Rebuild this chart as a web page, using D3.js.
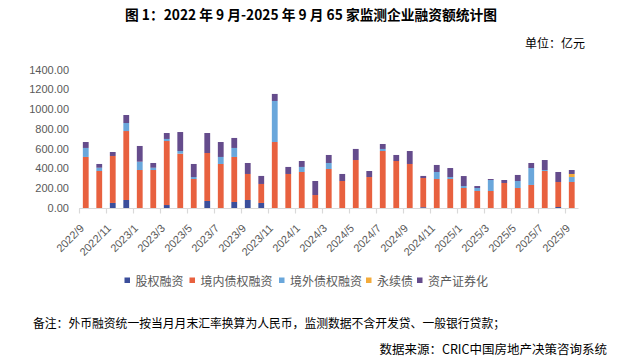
<!DOCTYPE html>
<html><head><meta charset="utf-8">
<script src="https://cdn.jsdelivr.net/npm/d3@7"></script>
<style>
html,body{margin:0;padding:0;background:#fff;}
svg{display:block;}
</style></head>
<body>
<svg id="chart" width="619" height="361"></svg>
<script>
const categories = ["2022/9","2022/10","2022/11","2022/12","2023/1","2023/2","2023/3","2023/4","2023/5","2023/6","2023/7","2023/8","2023/9","2023/10","2023/11","2023/12","2024/1","2024/2","2024/3","2024/4","2024/5","2024/6","2024/7","2024/8","2024/9","2024/10","2024/11","2024/12","2025/1","2025/2","2025/3","2025/4","2025/5","2025/6","2025/7","2025/8","2025/9"];
const equity   = [0,0,51,81,0,0,30,0,0,71,0,61,81,51,0,0,0,0,0,0,0,0,0,0,0,8,0,0,0,0,0,0,0,0,0,10,0];
const domestic = [516,374,475,697,384,384,647,549,293,485,445,455,263,192,667,344,364,131,394,273,485,313,576,475,445,295,293,293,202,172,172,253,202,233,374,253,263];
const overseas = [91,33,0,81,84,23,21,27,20,0,71,91,0,0,415,0,51,0,61,0,0,0,21,0,0,0,71,20,20,30,111,0,71,171,10,0,50];
const perpetual= [0,0,0,0,0,0,0,0,0,0,0,0,0,0,0,0,0,0,0,0,0,0,0,0,0,0,0,0,0,0,0,0,0,0,0,0,31];
const abs      = [60,38,40,81,159,48,60,192,132,202,151,101,111,81,71,71,60,142,81,71,112,61,50,61,131,21,71,91,101,20,10,30,61,51,101,101,40];
const seriesNames = ["股权融资","境内债权融资","境外债权融资","永续债","资产证券化"];
const seriesColors = ["#3b4e9b","#e8613f","#6aa7db","#f3ab3b","#654c8c"];
const yTicks = [0,200,400,600,800,1000,1200,1400];

const title = "图 1：2022 年 9 月-2025 年 9 月 65 家监测企业融资额统计图";
const unitText = "单位：亿元";
const noteText = "备注：外币融资统一按当月月末汇率换算为人民币，监测数据不含开发贷、一般银行贷款；";
const sourceText = "数据来源：CRIC中国房地产决策咨询系统";

const svg = d3.select("#chart");
svg.append("rect").attr("width",619).attr("height",361).attr("fill","#fff");

const table = categories.map((c,i)=>({cat:c, s0:equity[i], s1:domestic[i], s2:overseas[i], s3:perpetual[i], s4:abs[i]}));
const keys = ["s0","s1","s2","s3","s4"];
const stacked = d3.stack().keys(keys)(table);

const x = d3.scaleBand().domain(categories).range([79,578.5]).paddingInner(0.57).paddingOuter(0.285);
const y = d3.scaleLinear().domain([0,1400]).range([208,69.5]);
const step = x.step();

const cjk = "'Noto Sans CJK SC', sans-serif";

// title
svg.append("text").attr("x",311).attr("y",20).attr("text-anchor","middle")
  .attr("font-family",cjk).attr("font-weight","700").attr("font-size",14).attr("fill","#000")
  .attr("textLength",372).attr("lengthAdjust","spacingAndGlyphs").text(title);
// unit
svg.append("text").attr("x",585).attr("y",48).attr("text-anchor","end")
  .attr("font-family",cjk).attr("font-size",12).attr("fill","#000").text(unitText);

// y axis labels
const yAxis = d3.axisLeft(y).tickValues(yTicks).tickFormat(d3.format(".2f")).tickSize(0).tickPadding(0);
const yg = svg.append("g").attr("transform","translate(69,0)").call(yAxis);
yg.select(".domain").remove();
yg.selectAll("text").attr("font-family","'Liberation Sans', Arial, sans-serif").attr("font-size",11).attr("fill","#595959");

// bars
svg.append("g").selectAll("g").data(stacked).join("g")
  .attr("fill",(d,i)=>seriesColors[i])
  .selectAll("rect").data(d=>d).join("rect")
  .attr("x",d=>x(d.data.cat)).attr("width",x.bandwidth())
  .attr("y",d=>y(d[1])).attr("height",d=>y(d[0])-y(d[1]));

// x axis
const xg = svg.append("g");
xg.append("line").attr("x1",79).attr("x2",578.5).attr("y1",208.5).attr("y2",208.5).attr("stroke","#d9d9d9").attr("stroke-width",1.2);
const tickIdx = d3.range(0,categories.length,2);
xg.selectAll("line.tk").data(tickIdx).join("line").attr("class","tk")
  .attr("x1",i=>Math.round(x.range()[0]+i*step)+0.5).attr("x2",i=>Math.round(x.range()[0]+i*step)+0.5)
  .attr("y1",208.5).attr("y2",213.5).attr("stroke","#d9d9d9").attr("stroke-width",1.2);
xg.selectAll("text").data(categories.filter((c,i)=>i%2===0)).join("text")
  .attr("transform",c=>`translate(${x(c)+x.bandwidth()/2-1},229) rotate(-45)`)
  .attr("text-anchor","end").attr("font-family","'Liberation Sans', Arial, sans-serif")
  .attr("font-size",11).attr("fill","#595959").text(c=>c);

// legend
const legendX = [124.5,189.5,279,366,417];
const lg = svg.append("g");
seriesNames.forEach((n,i)=>{
  lg.append("rect").attr("x",legendX[i]).attr("y",277.5).attr("width",5.5).attr("height",5.5).attr("fill",seriesColors[i]);
  lg.append("text").attr("x",legendX[i]+11).attr("y",285.5).attr("font-family",cjk).attr("font-size",12)
    .attr("fill","#595959").text(n);
});

// notes
svg.append("text").attr("x",33).attr("y",327.5).attr("font-family",cjk).attr("font-size",12.5).attr("fill","#000")
  .attr("textLength",472).attr("lengthAdjust","spacingAndGlyphs").text(noteText);
svg.append("text").attr("x",607).attr("y",354).attr("text-anchor","end").attr("font-family",cjk).attr("font-size",12.5).attr("fill","#000")
  .text(sourceText);
</script>
</body></html>
